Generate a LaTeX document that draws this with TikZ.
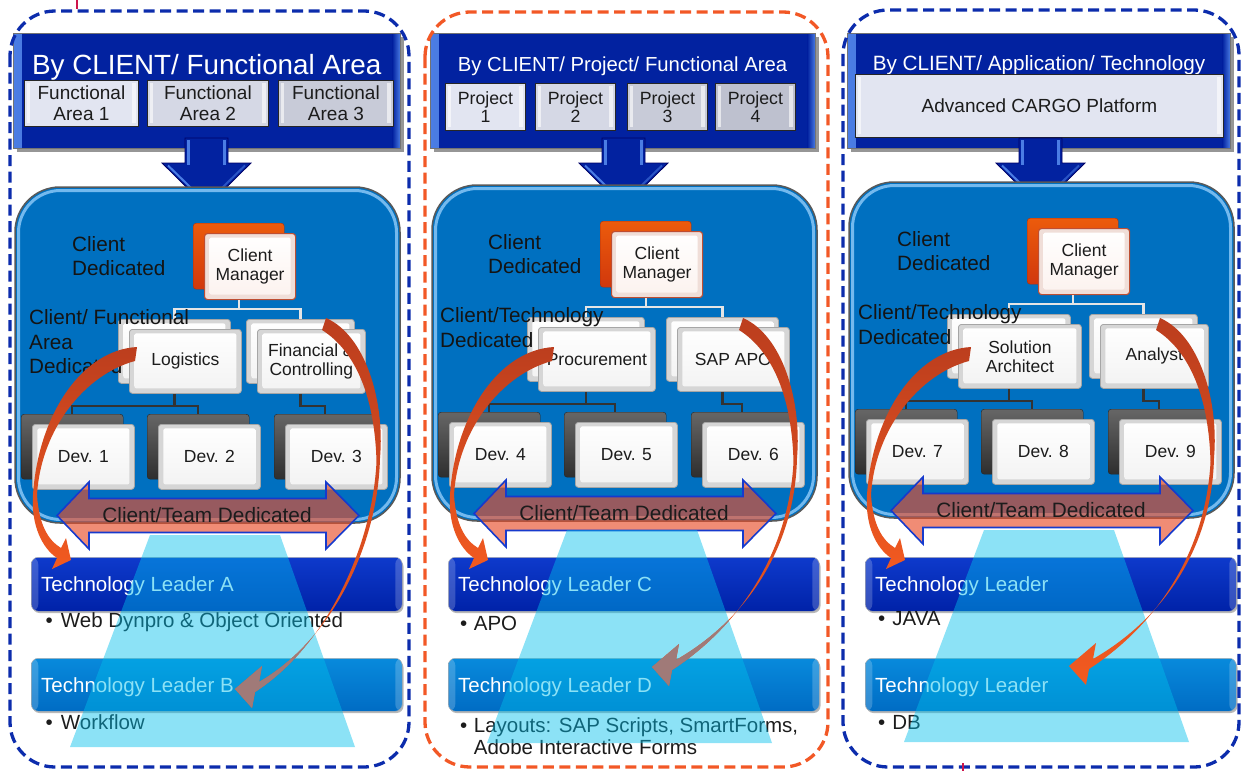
\documentclass[tikz,border=0pt]{standalone}
\usepackage{fontspec}
\setmainfont{Liberation Sans}
\usetikzlibrary{calc}

\definecolor{dashblue}{RGB}{12,44,172}
\definecolor{dashred}{RGB}{242,88,38}
\definecolor{hdrblue}{RGB}{2,34,160}
\definecolor{hdredge}{RGB}{75,125,228}
\definecolor{hdrshadow}{RGB}{150,150,150}
\definecolor{panelblue}{RGB}{0,112,192}
\definecolor{panelrim}{RGB}{115,185,238}
\definecolor{sbA}{RGB}{226,229,241}
\definecolor{sbB}{RGB}{213,216,229}
\definecolor{sbC}{RGB}{200,203,216}
\definecolor{sbD}{RGB}{190,193,207}
\definecolor{mgrred}{RGB}{232,62,14}
\definecolor{mgrline}{RGB}{190,78,50}
\definecolor{mgrband}{RGB}{240,222,216}
\definecolor{mgrfill}{RGB}{252,242,238}
\definecolor{bevelgray}{RGB}{214,214,214}
\definecolor{barAtop}{RGB}{14,58,204}
\definecolor{barAbot}{RGB}{0,34,168}
\definecolor{barBtop}{RGB}{8,138,220}
\definecolor{barBbot}{RGB}{0,108,196}
\definecolor{cone}{RGB}{0,190,235}
\definecolor{curvetop}{RGB}{188,62,30}
\definecolor{curvebot}{RGB}{242,90,32}
\definecolor{curvemauve}{RGB}{160,122,120}
\definecolor{teamfill}{RGB}{232,79,43}
\definecolor{teamline}{RGB}{22,58,205}
\definecolor{inktext}{RGB}{28,28,28}
\definecolor{tickred}{RGB}{205,20,75}

\tikzset{
  groupframe/.style={line width=3.3pt, dash pattern=on 11pt off 5.5pt, rounded corners=45pt},
  hdr/.style={anchor=north west, inner sep=0pt, fill=hdrblue, draw=black!55, line width=0.8pt,
    path picture={
      \shade[left color=hdredge, right color=hdrblue] (path picture bounding box.north west) rectangle ([xshift=8pt]path picture bounding box.south west);
      \shade[left color=hdrblue, right color=hdredge] ([xshift=-8pt]path picture bounding box.north east) rectangle (path picture bounding box.south east);
    }},
  hdrtitle/.style={anchor=base, inner sep=0pt, text=white},
  subbox/.style={anchor=north west, inner sep=0pt, draw=black!85, line width=0.9pt, text=inktext, align=center,
    font=\fontsize{19}{20.5}\selectfont,
    path picture={
      \fill[white, opacity=0.6] ([shift={(2.5pt,-3pt)}]path picture bounding box.north west) rectangle ([shift={(6pt,3pt)}]path picture bounding box.south west);
      \fill[white, opacity=0.6] ([shift={(-6pt,-3pt)}]path picture bounding box.north east) rectangle ([shift={(-2.5pt,3pt)}]path picture bounding box.south east);
    }},
  panel/.style={fill=panelblue, draw=black!65, line width=1.5pt, rounded corners=45pt},
  panelrim/.style={draw=panelrim, line width=3pt, rounded corners=42pt},
  boxbase/.style={inner sep=0pt, rounded corners=3pt, align=center, text=inktext, font=\fontsize{17.5}{19}\selectfont},
  devback/.style={boxbase, draw=black!85, top color=black!60, bottom color=black!82},
  lback/.style={boxbase, fill=bevelgray, draw=black!35, line width=0.8pt,
    path picture={\shade[top color=white, bottom color=black!5, rounded corners=2pt]
      ([shift={(5pt,-4pt)}]path picture bounding box.north west) rectangle ([shift={(-5pt,5pt)}]path picture bounding box.south east);}},
  lfront/.style={lback},
  mgrback/.style={boxbase, draw=mgrred!75!black, top color=mgrred!85!yellow, bottom color=mgrred!90!black},
  mgrfront/.style={boxbase, fill=mgrband, draw=mgrline, line width=1.1pt,
    path picture={\shade[top color=white, bottom color=mgrfill, rounded corners=2pt]
      ([shift={(5pt,-4pt)}]path picture bounding box.north west) rectangle ([shift={(-5pt,5pt)}]path picture bounding box.south east);}},
  buslight/.style={draw=white!90!black, line width=2.2pt},
  busdark/.style={draw=black!80, line width=2.5pt},
  lbl/.style={anchor=north west, inner sep=0pt, align=left, text=black!92, font=\fontsize{20.7}{24.5}\selectfont},
  team/.style={fill=teamfill, fill opacity=0.65, draw=teamline, line width=1.6pt, line join=miter},
  teamtext/.style={inner sep=0pt, text=inktext, font=\fontsize{20.8}{22}\selectfont, text height=14.9pt, text depth=0pt},
  barstyle/.style={anchor=north west, inner sep=0pt, rounded corners=7pt, draw=black!30, line width=0.5pt,
    path picture={
      \fill[white, opacity=0.2] (path picture bounding box.north west) rectangle ([xshift=7pt]path picture bounding box.south west);
      \fill[white, opacity=0.2] ([xshift=-7pt]path picture bounding box.north east) rectangle (path picture bounding box.south east);
    }},
  barshadow/.style={fill=black!28, rounded corners=7pt},
  bartext/.style={anchor=west, inner sep=0pt, text=white, font=\fontsize{20.5}{22}\selectfont, text height=14.7pt, text depth=0pt},
  bul/.style={anchor=west, inner sep=0pt, text=inktext, font=\fontsize{20.5}{22}\selectfont, text height=14.7pt, text depth=0pt},
  bultwo/.style={anchor=north west, inner sep=0pt, align=left, text=inktext, font=\fontsize{20.5}{22}\selectfont},
}

% back box with an offset twin in front of it; the twin carries the text
\newcommand\stackpair[8]{%
  \node[#6, anchor=north west, minimum width=#4pt, minimum height=#5pt] (#1) at (#2,#3) {};
  \node[#7, anchor=north west, minimum width=#4pt, minimum height=#5pt] (#1f) at ($(#1.north west)+(11pt,-10pt)$) {#8};
}

% block arrow from a header down to its panel
\newcommand\hdrarrow[1]{%
  \begin{scope}[shift={(#1,0)}]
    \filldraw[fill=hdrblue, draw=black!60!blue, line width=0.8pt]
      (185,138) -- (228,138) -- (228,163) -- (251,163) -- (206.5,207) -- (162,163) -- (185,163) -- cycle;
    \draw[hdredge, line width=2.5pt] (188.5,140) -- (188.5,164.5);
    \draw[hdredge, line width=2.5pt] (224.5,140) -- (224.5,164.5);
    \draw[hdredge, line width=2pt] (168,165.5) -- (206.5,203);
    \draw[hdredge!55!hdrblue, line width=2pt] (245,165.5) -- (206.5,203);
  \end{scope}}

% curved hand-over arrows of a column
\newcommand\leftcurve{(137,347) .. controls (82,350) and (38,415) .. (33,495) .. controls (31,525) and (42,548) .. (57,558) -- (52,569) -- (71,560) -- (66,538) -- (61,548) .. controls (48,540) and (39,525) .. (37,495) .. controls (41,428) and (86,374) .. (135,361) -- cycle}
\newcommand\rightcurve[1]{(326,318) .. controls (365,335) and (385,400) .. (380,458) .. controls (378,545) and (332,{640+(#1)}) .. (259,{682+(#1)}) -- (262,{666+(#1)}) -- (235,{689+(#1)}) -- (252,{708+(#1)}) -- (255,{692+(#1)}) .. controls (326,{646+(#1)}) and (372,548) .. (376.5,462) .. controls (375,400) and (357,352) .. (322,330) -- cycle}

% blue panel with the organisation chart
\newcommand\orgcol[3]{%
\begin{scope}[shift={(#1,#2)}]
  \draw[panel] (15,187) rectangle (400,523);
  \draw[panelrim] (18.5,190.5) rectangle (396.5,519.5);
  \stackpair{#3mgr}{\cMx}{223}{91}{66}{mgrback}{mgrfront}{Client\\Manager}
  \stackpair{#3la}{\cLx}{319}{\cLw}{64}{lback}{lfront}{\cLtext}
  \stackpair{#3lb}{\cRx}{319}{\cRw}{64}{lback}{lfront}{\cRtext}
  \stackpair{#3da}{21}{414}{102}{65}{devback}{lfront}{\cDevA}
  \stackpair{#3db}{147}{414}{102}{65}{devback}{lfront}{\cDevB}
  \stackpair{#3dc}{274}{414}{102}{65}{devback}{lfront}{\cDevC}
  \coordinate (#3busa) at (0,309);
  \coordinate (#3busb) at (0,406);
  \draw[buslight] (#3mgr.center |- #3mgrf.south) -- (#3mgr.center |- #3busa) -| (#3la.north);
  \draw[buslight] (#3mgr.center |- #3busa) -| (#3lb.north);
  \draw[busdark] (#3la.center |- #3laf.south) -- (#3la.center |- #3busb) -| (#3da.north);
  \draw[busdark] (#3la.center |- #3busb) -| (#3db.north);
  \draw[busdark] (#3lb.center |- #3lbf.south) -- (#3lb.center |- #3busb) -| (#3dc.north);
  \node[lbl] (#3lbla) at (\cLabAx,236) {Client\\Dedicated};
  \node[lbl] (#3lblb) at (\cLabBx,309.5) {\cLabB};
  \path[team] (57,515.5) -- (89,482) -- (89,498.5) -- (326,498.5) -- (326,482) -- (359,515.5)
     -- (326,549) -- (326,532.5) -- (89,532.5) -- (89,549) -- cycle;
  \node[teamtext] (#3team) at (207,515.5) {Client/Team Dedicated};
\end{scope}}

% technology leader bars, bullets, light cone and the curved arrows
\newcommand\lowercol[6]{%
\begin{scope}[shift={(#1,0)}]
  \fill[barshadow] (32.5,559.5) rectangle (403.5,613);
  \node[barstyle, top color=barAtop, bottom color=barAbot, minimum width=371pt, minimum height=54pt] (#2tla) at (31,557) {};
  \node[bartext] (#2tlat) at ([xshift=10pt]#2tla.west) {\cTLa};
  \fill[barshadow] (32.5,660.5) rectangle (403.5,713);
  \node[barstyle, top color=barBtop, bottom color=barBbot, minimum width=371pt, minimum height=53pt] (#2tlb) at (31,658) {};
  \node[bartext] (#2tlbt) at ([xshift=10pt]#2tlb.west) {\cTLb};
  \cBullets
  \fill[cone, opacity=0.45] (150,#3) -- (280,#3) -- (355,#4) -- (70,#4) -- cycle;
  \shade[top color=curvetop, bottom color=curvebot] \leftcurve;
  \shade[top color=curvetop, bottom color=curvebot] \rightcurve{#5};
  \ifnum#6=1
    \begin{scope}
      \clip (150,#3) -- (280,#3) -- (355,#4) -- (70,#4) -- cycle;
      \fill[curvemauve] \rightcurve{#5};
    \end{scope}
  \fi
\end{scope}}

\begin{document}
\begin{tikzpicture}[x=1pt,y=-1pt]
\useasboundingbox (0,0) rectangle (1243,771);

% ---------------- headers ----------------
\fill[hdrshadow] (16.5,36.5) rectangle (403.5,151.5);
\node[hdr, minimum width=387pt, minimum height=115pt] (h1) at (13,33) {};
\node[hdrtitle, font=\fontsize{27.8}{30}\selectfont] (h1t) at (206.7,74) {By CLIENT/ Functional Area};
\node[subbox, fill=sbA, minimum width=114pt, minimum height=46pt] (h1a) at (24,80) {Functional\\Area 1};
\node[subbox, fill=sbB, minimum width=121pt, minimum height=46pt] (h1b) at (147,80) {Functional\\Area 2};
\node[subbox, fill=sbC, minimum width=115pt, minimum height=46pt] (h1c) at (278,80) {Functional\\Area 3};
\hdrarrow{0}

\fill[hdrshadow] (433.5,36.5) rectangle (818.5,151.5);
\node[hdr, minimum width=385pt, minimum height=115pt] (h2) at (430,33) {};
\node[hdrtitle, font=\fontsize{20.3}{22}\selectfont] (h2t) at (622.5,71.7) {By CLIENT/ Project/ Functional Area};
\node[subbox, fill=sbA, minimum width=80pt, minimum height=47pt, font=\fontsize{17.7}{18.5}\selectfont] (h2a) at (445,83) {Project\\1};
\node[subbox, fill=sbB, minimum width=80pt, minimum height=47pt, font=\fontsize{17.7}{18.5}\selectfont] (h2b) at (535,83) {Project\\2};
\node[subbox, fill=sbC, minimum width=80pt, minimum height=47pt, font=\fontsize{17.7}{18.5}\selectfont] (h2c) at (627,83) {Project\\3};
\node[subbox, fill=sbD, minimum width=80pt, minimum height=47pt, font=\fontsize{17.7}{18.5}\selectfont] (h2d) at (715,83) {Project\\4};
\hdrarrow{417}

\fill[hdrshadow] (850.5,36.5) rectangle (1233.5,151.5);
\node[hdr, minimum width=383pt, minimum height=115pt] (h3) at (847,33) {};
\node[hdrtitle, font=\fontsize{20.7}{22}\selectfont] (h3t) at (1039,70.7) {By CLIENT/ Application/ Technology};
\node[subbox, fill=sbA, minimum width=368pt, minimum height=63pt] (h3a) at (855,74) {Advanced CARGO Platform};
\hdrarrow{834}

% ---------------- organisation panels ----------------
\def\cMx{193}\def\cLx{118}\def\cLw{112}\def\cRx{246}\def\cRw{108}
\def\cLtext{Logistics}\def\cRtext{Financial \&\\Controlling}
\def\cDevA{Dev. 1}\def\cDevB{Dev. 2}\def\cDevC{Dev. 3}
\def\cLabAx{72}\def\cLabBx{29}\def\cLabB{Client/ Functional\\Area\\Dedicated}
\orgcol{0}{0}{a}

\def\cMx{183}\def\cLx{110}\def\cLw{117}\def\cRx{249}\def\cRw{112}
\def\cLtext{Procurement}\def\cRtext{SAP APO}
\def\cDevA{Dev. 4}\def\cDevB{Dev. 5}\def\cDevC{Dev. 6}
\def\cLabAx{71}\def\cLabBx{23}\def\cLabB{Client/Technology\\Dedicated}
\orgcol{417}{-2}{b}

\def\cMx{193}\def\cLx{113}\def\cLw{123}\def\cRx{255}\def\cRw{108}
\def\cLtext{Solution\\Architect}\def\cRtext{Analyst}
\def\cDevA{Dev. 7}\def\cDevB{Dev. 8}\def\cDevC{Dev. 9}
\def\cLabAx{63}\def\cLabBx{24}\def\cLabB{Client/Technology\\Dedicated}
\orgcol{834}{-5}{c}

% ---------------- technology leaders ----------------
\def\cTLa{Technology Leader A}\def\cTLb{Technology Leader B}
\def\cBullets{%
  \node[bul] (abul1) at (45.5,620) {\textbullet\hspace{8pt}Web Dynpro \& Object Oriented};
  \node[bul] (abul2) at (45.5,722) {\textbullet\hspace{8pt}Workflow};}
\lowercol{0}{a}{535}{747}{0}{1}

\def\cTLa{Technology Leader C}\def\cTLb{Technology Leader D}
\def\cBullets{%
  \node[bul] (bbul1) at (43,623) {\textbullet\hspace{6.5pt}APO};
  \node[bultwo] (bbul2) at (43,717.5) {\textbullet\hspace{6.5pt}Layouts: SAP Scripts, SmartForms,\\\phantom{\textbullet}\hspace{6.5pt}Adobe Interactive Forms};}
\lowercol{417}{b}{530}{743}{-22}{1}

\def\cTLa{Technology Leader}\def\cTLb{Technology Leader}
\def\cBullets{%
  \node[bul] (cbul1) at (44,618) {\textbullet\hspace{7pt}JAVA};
  \node[bul] (cbul2) at (44,722) {\textbullet\hspace{7pt}DB};}
\lowercol{834}{c}{530}{742}{-23}{0}

% ---------------- dashed group frames ----------------
\draw[groupframe, dashblue] (10,11) rectangle (409,767);
\draw[groupframe, dashred] (425,12) rectangle (828,767);
\draw[groupframe, dashblue] (843,10) rectangle (1239,767);

\draw[tickred, line width=1.5pt] (77,0) -- (77,9);
\draw[tickred, line width=1.5pt] (963,763) -- (963,771);
\end{tikzpicture}
\end{document}
